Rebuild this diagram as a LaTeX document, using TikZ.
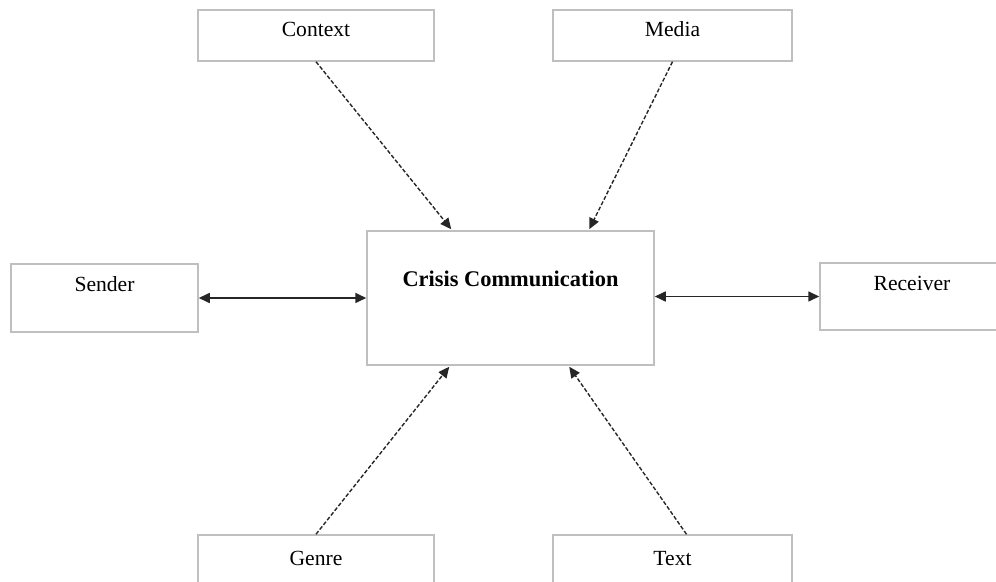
\documentclass[tikz,border=0pt]{standalone}
\usepackage{fontspec}
\setmainfont{Liberation Serif}
\usetikzlibrary{positioning, arrows.meta, calc}

\begin{document}
\begin{tikzpicture}[
		x=0.5pt, y=-0.5pt, % one unit = one pixel of the sketch
		>={Triangle[length=5.5pt, width=5pt]}, % Arrow style
		box/.style={draw=black!25, line width=0.75pt, rectangle, inner sep=2pt, text height=8pt, font=\fontsize{10.8}{13}\selectfont},
		flow/.style={->, dash pattern=on 2pt off 1pt, line width=0.7pt, black!85},
		link/.style={<->, line width=0.8pt, black!85}
	]
	\useasboundingbox (0,0) rectangle (996,582);
	\clip (0,0) rectangle (996,582);

	% Central node
	\node[box, minimum width=143.5pt, minimum height=67pt, text depth=19pt, font=\fontsize{11.2}{13}\selectfont\bfseries] (crisis) at (510.5,298) {Crisis Communication};

	% Top nodes
	\node[box, minimum width=118pt, minimum height=25.5pt, text depth=6.5pt] (context) at (316,35.5) {Context};
	\node[box, minimum width=119.5pt, minimum height=25.5pt, text depth=6.5pt] (media) at (672.5,35.5) {Media};

	% Side nodes
	\node[box, minimum width=93.5pt, minimum height=34pt, text depth=14pt] (sender) at (104.5,298) {Sender};
	\node[box, minimum width=92pt, minimum height=33.5pt, text depth=14pt] (receiver) at (912,296.5) {Receiver};

	% Bottom nodes
	\node[box, minimum width=118pt, minimum height=25.5pt, text depth=2.5pt] (genre) at (316,560.5) {Genre};
	\node[box, minimum width=119.5pt, minimum height=25.5pt, text depth=2.5pt] (textbox) at (672.5,560.5) {Text};

	% Dashed arrows into the centre
	\draw[flow] (context.south) -- ($(crisis.north west)+(85,-1)$);
	\draw[flow] (media.south) -- ($(crisis.north west)+(223,-1)$);
	\draw[flow] (genre.north) -- ($(crisis.south west)+(83,1)$);
	\draw[flow] ($(textbox.north)+(14,0)$) -- ($(crisis.south west)+(203,1)$);

	% Two-way links
	\draw[link] (sender.east) -- (sender.east -| crisis.west);
	\draw[link] (crisis.east |- receiver.west) -- (receiver.west);

\end{tikzpicture}
\end{document}
